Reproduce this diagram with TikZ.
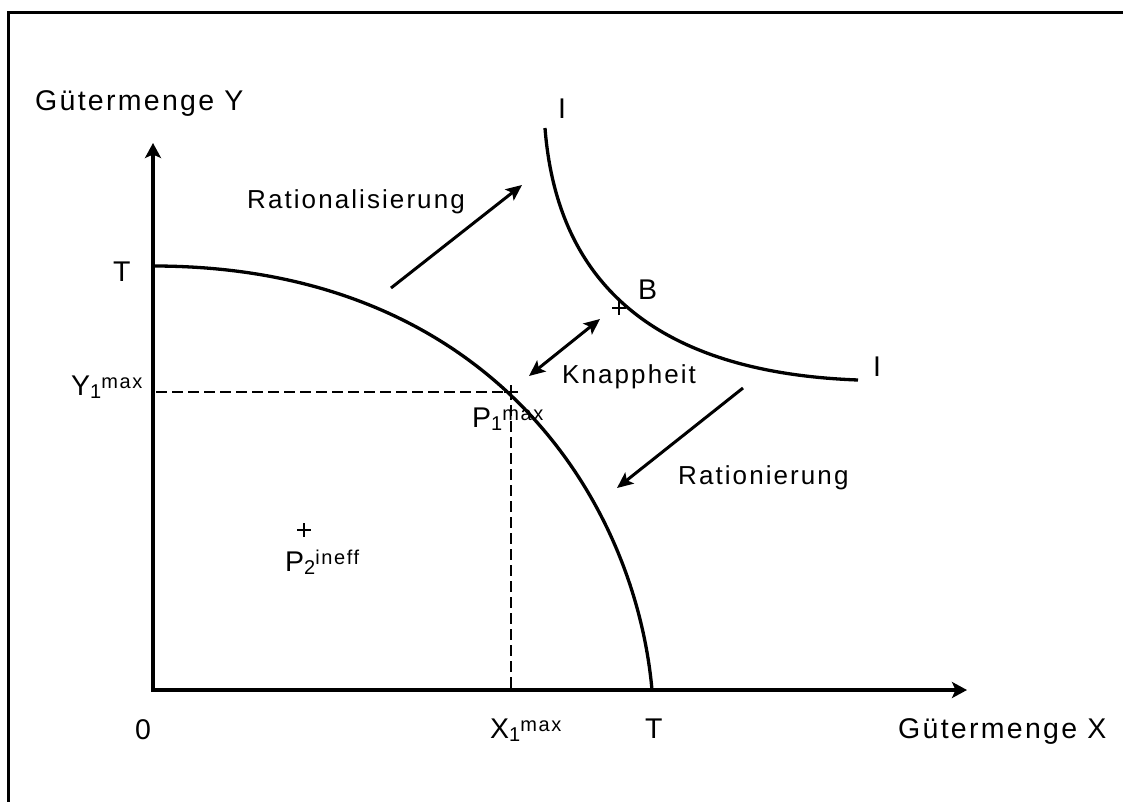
\documentclass[tikz,border=0pt]{standalone}
\usepackage{fontspec}
\setmainfont{Liberation Sans}
\newfontfamily\lsp[LetterSpace=8]{Liberation Sans}
\usetikzlibrary{arrows.meta}
\newcommand\bigf{\lsp\fontsize{28.5}{31}\selectfont}
\newcommand\midf{\lsp\fontsize{26}{29}\selectfont}
\newcommand\supf{\lsp\fontsize{20}{24}\selectfont}
\newcommand\subsup[3][7pt]{\raisebox{-3pt}{\supf #2}\raisebox{#1}{\supf #3}}
\begin{document}
\begin{tikzpicture}[x=1pt,y=-1pt,
  frameline/.style={line width=3.6pt},
  axis/.style={line width=4.2pt, line join=miter, {Stealth[length=15pt,width=16pt,inset=3.5pt]}-{Stealth[length=15pt,width=16pt,inset=3.5pt]}},
  curve/.style={line width=3.3pt},
  arr/.style={line width=3pt, -{Stealth[length=16pt,width=14pt,inset=3.5pt]}},
  darr/.style={line width=3pt, {Stealth[length=16pt,width=14pt,inset=3.5pt]}-{Stealth[length=16pt,width=14pt,inset=3.5pt]}},
  dashline/.style={line width=2.4pt, dash pattern=on 11pt off 5pt},
  plusmark/.style={line width=2.6pt},
  lbl/.style={inner sep=0pt, anchor=base west, font=\bigf},
  mlbl/.style={inner sep=0pt, anchor=base west, font=\midf}]
\useasboundingbox (0,0) rectangle (1123,802);
% frame (top and left edges)
\coordinate (fbl) at (8.5,802);
\coordinate (ftl) at (8.5,12.5);
\coordinate (ftr) at (1123,12.5);
\draw[frameline] (fbl) -- (ftl) -- (ftr);
% axes
\coordinate (O) at (153,690);
\coordinate (ytop) at (153,143);
\coordinate (xend) at (967,690);
\draw[axis] (ytop) -- (O) -- (xend);
% transformation curve T-T
\coordinate (T1) at (153,266);
\coordinate (T2) at (652,690);
\draw[curve] (T1) .. controls (490,266) and (635,500) .. (T2);
% indifference curve I-I
\coordinate (I1) at (545,128);
\coordinate (I2) at (858,380);
\draw[curve] (I1) .. controls (556,270) and (640,372) .. (I2);
% dashed lines
\coordinate (P1) at (511,392);
\coordinate (Yax) at (156,392);
\coordinate (Xax) at (511,688);
\draw[dashline] (Yax) -- (P1) -- (Xax);
% plus marks
\coordinate (Bp) at (619,308);
\coordinate (P2) at (304,530);
\foreach \c in {P1,Bp,P2}{
  \draw[plusmark] (\c) +(-7,0) -- +(7,0);
  \draw[plusmark] (\c) +(0,-7) -- +(0,7);
}
% arrows
\coordinate (ra1) at (391,288);
\coordinate (ra2) at (522,185);
\draw[arr] (ra1) -- (ra2);
\coordinate (ka1) at (529,376);
\coordinate (ka2) at (600,319);
\draw[darr] (ka1) -- (ka2);
\coordinate (rn1) at (743,388);
\coordinate (rn2) at (617,488);
\draw[arr] (rn1) -- (rn2);
% labels
\node[lbl] (gy) at (35,111) {Gütermenge Y};
\node[mlbl] (rat) at (247,209) {Rationalisierung};
\node[lbl] (itop) at (558,119) {I};
\node[lbl] (blab) at (638,299) {B};
\node[lbl] (iright) at (873,376) {I};
\node[lbl] (tyl) at (113,281) {T};
\node[lbl] (ymax) at (71,395) {Y\subsup{1}{max}};
\node[mlbl] (knap) at (562,383) {Knappheit};
\node[lbl] (p1lab) at (472,427) {P\subsup{1}{max}};
\node[mlbl] (ratn) at (678,484) {Rationierung};
\node[lbl] (p2lab) at (285,571) {P\subsup{2}{ineff}};
\node[lbl] (zero) at (135,739) {0};
\node[lbl] (xmax) at (490,738) {X\subsup{1}{max}};
\node[lbl] (txl) at (645,738) {T};
\node[lbl] (gx) at (898,738) {Gütermenge X};
\end{tikzpicture}
\end{document}
